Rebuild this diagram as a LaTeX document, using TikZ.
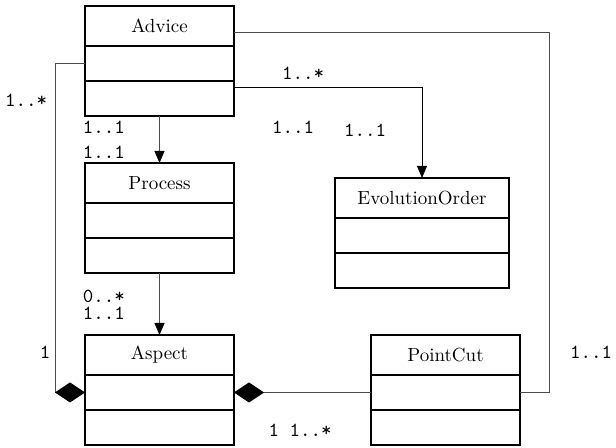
\documentclass[tikz,border=0pt]{standalone}
\usetikzlibrary{arrows.meta}
\begin{document}
\begin{tikzpicture}[x=0.5pt,y=-0.5pt,
  title/.style={draw,line width=0.55pt,rectangle,minimum width=74.5pt,minimum height=20pt,
    inner sep=0pt,outer sep=0pt,font=\fontsize{9.5}{11}\selectfont},
  comp/.style={draw,line width=0.55pt,rectangle,minimum width=74.5pt,minimum height=17.5pt,
    inner sep=0pt,outer sep=0pt},
  link/.style={line width=0.5pt,draw=black!70},
  dark/.style={line width=0.5pt,draw=black},
  nav/.style={-{Triangle[width=5pt,length=6pt,black]}},
  owns/.style={{Diamond[length=15pt,width=10pt,black,fill=black]}-},
  mult/.style={font=\ttfamily\fontsize{10}{10}\selectfont,inner sep=0pt}]
\useasboundingbox (0,0) rectangle (616,448);

% class boxes: title compartment plus two empty compartments
\node[title] (adv)  at (159.5,26)   {Advice};
\node[comp]  (adv1) at (159.5,63.5) {};
\node[comp]  (adv2) at (159.5,98.5) {};

\node[title] (proc)  at (159.5,183)   {Process};
\node[comp]  (proc1) at (159.5,220.5) {};
\node[comp]  (proc2) at (159.5,255.5) {};

\node[title] (asp)  at (159.5,355)   {Aspect};
\node[comp]  (asp1) at (159.5,392.5) {};
\node[comp]  (asp2) at (159.5,427.5) {};

\node[title,minimum width=87pt] (evo)  at (422,198)   {EvolutionOrder};
\node[comp,minimum width=87pt]  (evo1) at (422,235.5) {};
\node[comp,minimum width=87pt]  (evo2) at (422,270.5) {};

\node[title] (pc)  at (445.5,355)   {PointCut};
\node[comp]  (pc1) at (445.5,392.5) {};
\node[comp]  (pc2) at (445.5,427.5) {};

% associations
\draw[dark,nav] ([yshift=5.25pt]adv2.east) -| (evo.north);
\draw[link,nav] (adv2.south) -- (proc.north);
\draw[link,nav] (proc2.south) -- (asp.north);
\draw[link] ([yshift=-3.5pt]adv.east) -| ([xshift=14.5pt]pc1.east) -- (pc1.east);
\draw[link,owns] (asp1.west) -- ++(-30,0) |- (adv1.west);
\draw[link,owns] (asp1.east) -- (pc1.west);

% multiplicities
\node[mult] (m1) at (26,100)  {1..*};
\node[mult] (m2) at (303,73)  {1..*};
\node[mult] (m3) at (104,127) {1..1};
\node[mult] (m4) at (104,152) {1..1};
\node[mult] (m5) at (293,127) {1..1};
\node[mult] (m6) at (365,130) {1..1};
\node[mult] (m7) at (104,296) {0..*};
\node[mult] (m8) at (104,313) {1..1};
\node[mult] (m9) at (45,352)  {1};
\node[mult] (m10) at (591,352) {1..1};
\node[mult] (m11) at (300,430) {1 1..*};
\end{tikzpicture}
\end{document}
